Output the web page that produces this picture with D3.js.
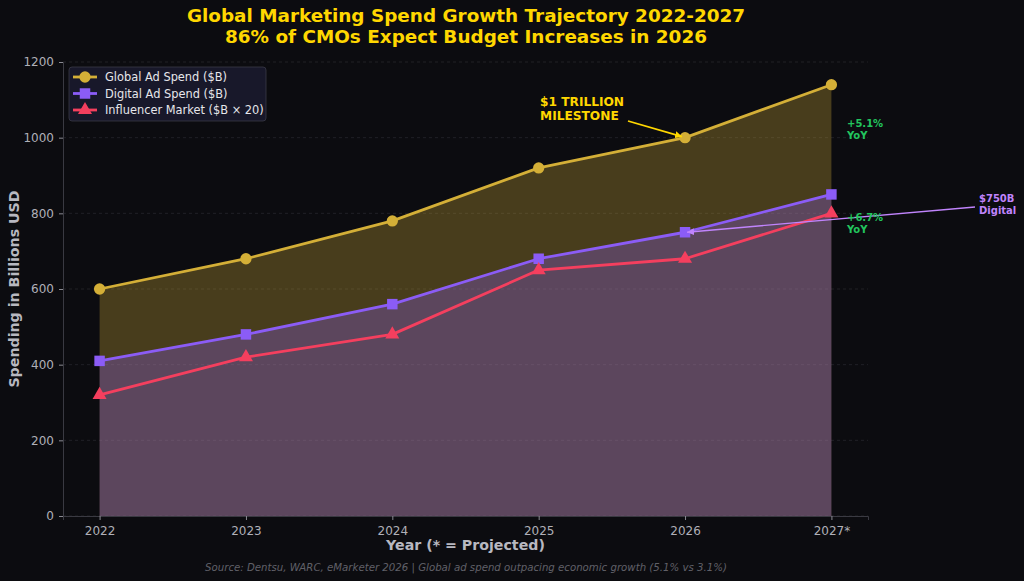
<!DOCTYPE html>
<html>
<head>
<meta charset="utf-8">
<script src="https://cdn.jsdelivr.net/npm/d3@7"></script>
<style>
  body { margin: 0; background: #0c0c10; }
  svg { display: block; font-family: "DejaVu Sans", sans-serif; }
</style>
</head>
<body>
<svg id="chart" width="1024" height="581"></svg>
<script>
// chart data
const years = ["2022", "2023", "2024", "2025", "2026", "2027*"];
const globalSpend = [600, 680, 780, 920, 1000, 1140];
const digitalSpend = [410, 480, 560, 680, 750, 850];
const influencerSpend = [16, 21, 24, 32.5, 34, 40]; // $B, plotted x 20
const yTicks = [0, 200, 400, 600, 800, 1000, 1200];

const width = 1024, height = 581;
const margin = { top: 62, right: 156, bottom: 65, left: 63 };

const svg = d3.select("#chart");

svg.append("rect")
    .attr("width", width).attr("height", height)
    .attr("fill", "#0c0c10");

const x = d3.scaleLinear()
    .domain([-0.25, years.length - 0.75])
    .range([margin.left, width - margin.right]);

const y = d3.scaleLinear()
    .domain([0, 1200])
    .range([height - margin.bottom, margin.top]);

// grid lines first so the fills sit on top
svg.append("g")
    .selectAll("line")
    .data(yTicks)
    .enter()
    .append("line")
    .attr("x1", margin.left)
    .attr("x2", width - margin.right)
    .attr("y1", d => y(d))
    .attr("y2", d => y(d))
    .attr("stroke", "#26262c")
    .attr("stroke-width", 0.8)
    .attr("stroke-dasharray", "3,3");

// filled areas
const areaFill = d3.area()
    .x((_, i) => x(i))
    .y0(y(0))
    .y1(d => y(d));

svg.append("path")
    .datum(globalSpend)
    .attr("d", areaFill)
    .attr("fill", "#D4AF37")
    .attr("fill-opacity", 0.3);

svg.append("path")
    .datum(digitalSpend)
    .attr("d", areaFill)
    .attr("fill", "#8B5CF6")
    .attr("fill-opacity", 0.3);

// axes
const xAxis = svg.append("g")
    .attr("transform", `translate(0,${y(0)})`)
    .call(d3.axisBottom(x).tickValues(d3.range(years.length)).tickFormat(i => years[i]).tickSize(4).tickPadding(6));

const yAxis = svg.append("g")
    .attr("transform", `translate(${margin.left},0)`)
    .call(d3.axisLeft(y).tickValues(yTicks).tickFormat(d3.format("d")).tickSize(4).tickPadding(5));

[xAxis, yAxis].forEach(g => {
    g.select(".domain").attr("stroke", "#3a3a42");
    g.selectAll(".tick line").attr("stroke", "#8a8a92");
    g.selectAll(".tick text")
        .attr("fill", "#b0b0b8")
        .style("font-size", "12px")
        .style("font-family", "DejaVu Sans");
});

// lines
const line = d3.line()
    .x((_, i) => x(i))
    .y(d => y(d));

const series = [
    { name: "Global Ad Spend ($B)", values: globalSpend, color: "#D4AF37", symbol: d3.symbolCircle, size: 100 },
    { name: "Digital Ad Spend ($B)", values: digitalSpend, color: "#8B5CF6", symbol: d3.symbolSquare, size: 110 },
    { name: "Influencer Market ($B \u00d7 20)", values: influencerSpend.map(v => v * 20), color: "#F43F5E", symbol: d3.symbolTriangle, size: 85 }
];

series.forEach(s => {
    svg.append("path")
        .datum(s.values)
        .attr("d", line)
        .attr("fill", "none")
        .attr("stroke", s.color)
        .attr("stroke-width", 2.8)
        .attr("stroke-linejoin", "round");

    svg.append("g")
        .selectAll("path")
        .data(s.values)
        .enter()
        .append("path")
        .attr("transform", (d, i) => `translate(${x(i)},${y(d)})`)
        .attr("d", d3.symbol().type(s.symbol).size(s.size))
        .attr("fill", s.color);
});

// arrow markers
const defs = svg.append("defs");
[["arrowGold", "#FFD700"], ["arrowPurple", "#c084fc"]].forEach(([id, col]) => {
    defs.append("marker")
        .attr("id", id)
        .attr("viewBox", "0 0 10 10")
        .attr("refX", 10).attr("refY", 5)
        .attr("markerWidth", 7).attr("markerHeight", 7)
        .attr("markerUnits", "userSpaceOnUse")
        .attr("orient", "auto")
        .append("path")
        .attr("d", "M0,0 L10,5 L0,10 Z")
        .attr("fill", col);
});

// annotations
svg.append("line")
    .attr("x1", 628).attr("y1", 121)
    .attr("x2", x(4) - 3).attr("y2", y(globalSpend[4]) - 1)
    .attr("stroke", "#FFD700")
    .attr("stroke-width", 1.8)
    .attr("marker-end", "url(#arrowGold)");

const milestone = svg.append("text")
    .attr("x", 540).attr("y", 106)
    .attr("fill", "#FFD700")
    .style("font-size", "12.2px")
    .style("font-weight", "bold");
milestone.append("tspan").attr("x", 540).text("$1 TRILLION");
milestone.append("tspan").attr("x", 540).attr("dy", 14).text("MILESTONE");

svg.append("line")
    .attr("x1", 975).attr("y1", 207)
    .attr("x2", x(4) + 2).attr("y2", y(digitalSpend[4]))
    .attr("stroke", "#c084fc")
    .attr("stroke-width", 1.3)
    .attr("marker-end", "url(#arrowPurple)");

const digitalNote = svg.append("text")
    .attr("x", 979).attr("y", 202)
    .attr("fill", "#c084fc")
    .style("font-size", "10px")
    .style("font-weight", "bold");
digitalNote.append("tspan").attr("x", 979).text("$750B");
digitalNote.append("tspan").attr("x", 979).attr("dy", 12).text("Digital");

[["+5.1%", 127], ["+6.7%", 221]].forEach(([label, yy]) => {
    const t = svg.append("text")
        .attr("x", 847).attr("y", yy)
        .attr("fill", "#22c55e")
        .style("font-size", "10px")
        .style("font-weight", "bold");
    t.append("tspan").attr("x", 847).text(label);
    t.append("tspan").attr("x", 847).attr("dy", 12).text("YoY");
});

// legend
const legend = svg.append("g").attr("transform", "translate(69,67)");
legend.append("rect")
    .attr("width", 197).attr("height", 54)
    .attr("rx", 3)
    .attr("fill", "#18182a")
    .attr("stroke", "#3a3a48")
    .attr("stroke-width", 0.8);

series.forEach((s, i) => {
    const row = legend.append("g").attr("transform", `translate(0,${10 + i * 16.5})`);
    row.append("line")
        .attr("x1", 4).attr("x2", 28)
        .attr("stroke", s.color).attr("stroke-width", 2.8);
    row.append("path")
        .attr("transform", "translate(16,0)")
        .attr("d", d3.symbol().type(s.symbol).size(s.size))
        .attr("fill", s.color);
    row.append("text")
        .attr("x", 36).attr("y", 4)
        .attr("fill", "#e6e6ea")
        .style("font-size", "11.4px")
        .text(s.name);
});

// titles and labels
const title = svg.append("text")
    .attr("x", 466).attr("y", 22)
    .attr("text-anchor", "middle")
    .attr("fill", "#FFD700")
    .style("font-size", "18.4px")
    .style("font-weight", "bold");
title.append("tspan").attr("x", 466).text("Global Marketing Spend Growth Trajectory 2022-2027");
title.append("tspan").attr("x", 466).attr("dy", 20.5).text("86% of CMOs Expect Budget Increases in 2026");

svg.append("text")
    .attr("x", (margin.left + width - margin.right) / 2).attr("y", 550)
    .attr("text-anchor", "middle")
    .attr("fill", "#b8b8c0")
    .style("font-size", "14.2px")
    .style("font-weight", "bold")
    .text("Year (* = Projected)");

svg.append("text")
    .attr("transform", `translate(19,${(margin.top + height - margin.bottom) / 2}) rotate(-90)`)
    .attr("text-anchor", "middle")
    .attr("fill", "#b8b8c0")
    .style("font-size", "14.2px")
    .style("font-weight", "bold")
    .text("Spending in Billions USD");

svg.append("text")
    .attr("x", 466).attr("y", 571)
    .attr("text-anchor", "middle")
    .attr("fill", "#606068")
    .style("font-size", "10.2px")
    .style("font-style", "italic")
    .text("Source: Dentsu, WARC, eMarketer 2026 | Global ad spend outpacing economic growth (5.1% vs 3.1%)");
</script>
</body>
</html>
